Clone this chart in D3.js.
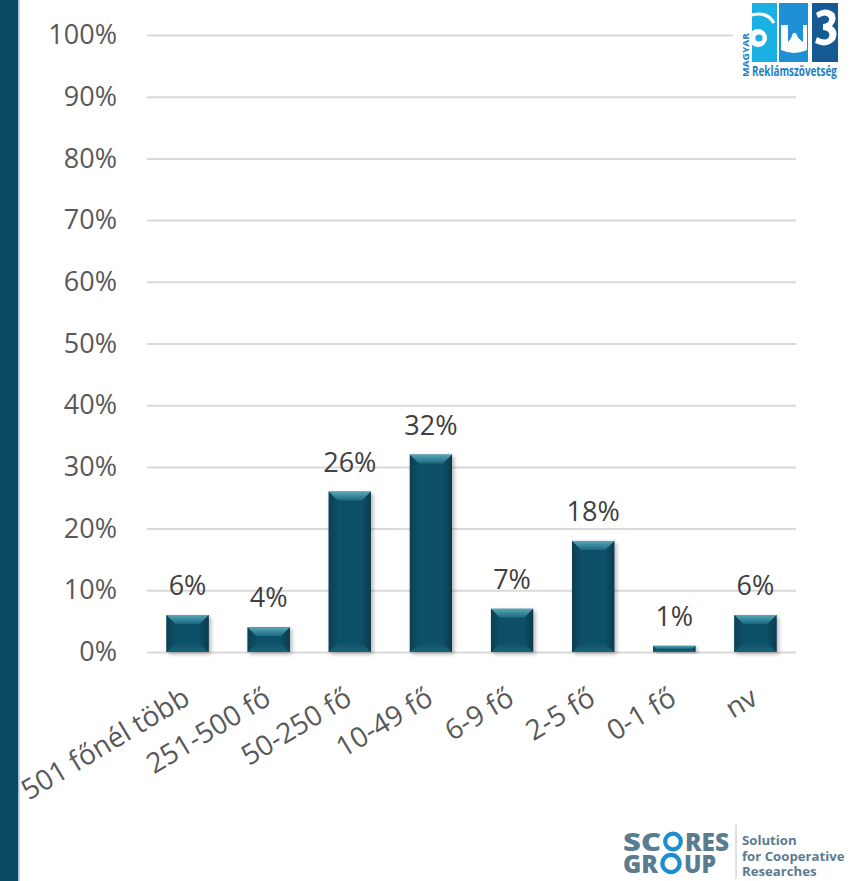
<!DOCTYPE html>
<html>
<head>
<meta charset="utf-8">
<script src="https://cdn.jsdelivr.net/npm/d3@7"></script>
<style>
  html, body { margin: 0; padding: 0; background: #ffffff; }
  svg { display: block; }
  text { font-family: "Open Sans", "Noto Sans", sans-serif; }
</style>
</head>
<body>
<svg id="chart" width="856" height="881"></svg>
<script>
// Company size distribution (share of respondents, %)
const categories = ["501 főnél több", "251-500 fő", "50-250 fő", "10-49 fő", "6-9 fő", "2-5 fő", "0-1 fő", "nv"];
const values = [6, 4, 26, 32, 7, 18, 1, 6];
const yTicks = [0, 10, 20, 30, 40, 50, 60, 70, 80, 90, 100];

const svg = d3.select("#chart");
const plot = { left: 147, right: 796, top: 35, bottom: 652 };

const x = d3.scaleBand()
  .domain(categories)
  .range([plot.left, plot.right])
  .paddingInner(0.48)
  .paddingOuter(0.24);

const y = d3.scaleLinear()
  .domain([0, 100])
  .range([plot.bottom, plot.top]);

// dark side strip
svg.append("rect").attr("x", 0).attr("y", 0).attr("width", 18).attr("height", 881).attr("fill", "#0c4a63");
svg.append("rect").attr("x", 18).attr("y", 0).attr("width", 1.6).attr("height", 881).attr("fill", "#9fbde0");

// gradients and shadow for the bevelled bars
const defs = svg.append("defs");
const gTop = defs.append("linearGradient").attr("id", "bevTop").attr("x1", 0).attr("y1", 0).attr("x2", 0).attr("y2", 1);
gTop.append("stop").attr("offset", "0%").attr("stop-color", "#5aa6ba");
gTop.append("stop").attr("offset", "100%").attr("stop-color", "#1a687e");
const gLeft = defs.append("linearGradient").attr("id", "bevLeft").attr("x1", 0).attr("y1", 0).attr("x2", 1).attr("y2", 0);
gLeft.append("stop").attr("offset", "0%").attr("stop-color", "#0a3f52");
gLeft.append("stop").attr("offset", "100%").attr("stop-color", "#0d4f66");
const gRight = defs.append("linearGradient").attr("id", "bevRight").attr("x1", 1).attr("y1", 0).attr("x2", 0).attr("y2", 0);
gRight.append("stop").attr("offset", "0%").attr("stop-color", "#093a4c");
gRight.append("stop").attr("offset", "100%").attr("stop-color", "#0d4f66");
const gBot = defs.append("linearGradient").attr("id", "bevBot").attr("x1", 0).attr("y1", 1).attr("x2", 0).attr("y2", 0);
gBot.append("stop").attr("offset", "0%").attr("stop-color", "#1a627a");
gBot.append("stop").attr("offset", "100%").attr("stop-color", "#0e5169");
const shadow = defs.append("filter").attr("id", "barShadow").attr("x", "-30%").attr("y", "-30%").attr("width", "160%").attr("height", "160%");
shadow.append("feGaussianBlur").attr("in", "SourceAlpha").attr("stdDeviation", 2);
shadow.append("feOffset").attr("dx", 1.5).attr("dy", 2).attr("result", "off");
shadow.append("feComponentTransfer").append("feFuncA").attr("type", "linear").attr("slope", 0.3);
const merge = shadow.append("feMerge");
merge.append("feMergeNode");
merge.append("feMergeNode").attr("in", "SourceGraphic");

// y axis with gridlines
const yAxis = svg.append("g")
  .attr("transform", `translate(${plot.left},0)`)
  .call(d3.axisLeft(y).tickValues(yTicks).tickFormat(d => d + "%")
    .tickSize(-(plot.right - plot.left)).tickPadding(30));
yAxis.select(".domain").remove();
yAxis.selectAll(".tick line").attr("stroke", "#d9d9d9").attr("stroke-width", 2);
yAxis.selectAll(".tick text")
  .attr("fill", "#595959")
  .attr("font-size", 27)
  .attr("font-family", "'Open Sans', sans-serif");

// bars
const bars = svg.append("g");
categories.forEach((c, i) => {
  const v = values[i];
  const x0 = x(c), x1 = x(c) + x.bandwidth();
  const y0 = y(v), y1 = y(0);
  const b = Math.min(9, (y1 - y0) / 2, (x1 - x0) / 2);
  const g = bars.append("g").attr("filter", "url(#barShadow)");
  g.append("rect").attr("x", x0).attr("y", y0).attr("width", x1 - x0).attr("height", y1 - y0).attr("fill", "#0d4f66");
  const poly = pts => pts.map(p => p.join(",")).join(" ");
  g.append("polygon").attr("points", poly([[x0, y1], [x1, y1], [x1 - b, y1 - b], [x0 + b, y1 - b]])).attr("fill", "url(#bevBot)");
  g.append("polygon").attr("points", poly([[x0, y0], [x0 + b, y0 + b], [x0 + b, y1 - b], [x0, y1]])).attr("fill", "url(#bevLeft)");
  g.append("polygon").attr("points", poly([[x1, y0], [x1 - b, y0 + b], [x1 - b, y1 - b], [x1, y1]])).attr("fill", "url(#bevRight)");
  g.append("polygon").attr("points", poly([[x0, y0], [x1, y0], [x1 - b, y0 + b], [x0 + b, y0 + b]])).attr("fill", "url(#bevTop)");
});

// value labels
svg.append("g").selectAll("text")
  .data(categories)
  .join("text")
  .attr("x", c => x(c) + x.bandwidth() / 2)
  .attr("y", (c, i) => y(values[i]) - 20)
  .attr("text-anchor", "middle")
  .attr("font-size", 27)
  .attr("fill", "#404040")
  .text((c, i) => values[i] + "%");

// category labels, rotated
svg.append("g").selectAll("text")
  .data(categories)
  .join("text")
  .attr("transform", c => `translate(${x(c) + x.bandwidth() / 2 + 4},703) rotate(-31)`)
  .attr("text-anchor", "end")
  .attr("font-size", 28)
  .attr("fill", "#595959")
  .text(c => c);

// association logo, top right
const logo = svg.append("g");
logo.append("rect").attr("x", 733).attr("y", 0).attr("width", 115).attr("height", 86).attr("fill", "#ffffff");
defs.append("clipPath").attr("id", "cyanClip").append("rect").attr("x", 752).attr("y", 3).attr("width", 25).attr("height", 59);
defs.append("clipPath").attr("id", "darkClip").append("rect").attr("x", 812).attr("y", 3).attr("width", 26).attr("height", 59);
logo.append("rect").attr("x", 752).attr("y", 3).attr("width", 25).attr("height", 59).attr("fill", "#1bb0e4");
const cy = logo.append("g").attr("clip-path", "url(#cyanClip)");
cy.append("path").attr("d", "M752,15 Q767,11 774,23").attr("fill", "none").attr("stroke", "#ffffff").attr("stroke-width", 3.2);
cy.append("circle").attr("cx", 758).attr("cy", 38).attr("r", 9).attr("fill", "#ffffff");
cy.append("circle").attr("cx", 759).attr("cy", 38).attr("r", 3.6).attr("fill", "#1bb0e4");
logo.append("rect").attr("x", 779).attr("y", 3).attr("width", 29).attr("height", 59).attr("fill", "#1f8fd6");
logo.append("path")
  .attr("d", "M781,25 L788,25 L788,42 Q792,38 793,33 L796,33 Q797,38 803,42 L803,25 L807,25 L807,50 Q794,56 781,50 Z")
  .attr("fill", "#ffffff");
logo.append("rect").attr("x", 812).attr("y", 3).attr("width", 26).attr("height", 59).attr("fill", "#165a94");
// white epsilon-like glyph in the dark block, drawn as a path
logo.append("g").attr("clip-path", "url(#darkClip)").append("path")
  .attr("d", "M816,13 Q826,6 834,13 Q838,19 832,26 Q839,31 835,40 Q827,49 815,43 L817,37 Q826,42 829,37 Q831,31 823,30 L823,24 Q830,23 829,18 Q826,13 818,18 Z")
  .attr("fill", "#ffffff");
logo.append("text")
  .attr("transform", "translate(749,77) rotate(-90)")
  .attr("font-size", 9.5).attr("font-weight", 700).attr("fill", "#1a7fc6")
  .attr("textLength", 44).attr("lengthAdjust", "spacingAndGlyphs")
  .text("MAGYAR");
// condensed wordmark: horizontally squeezed via transform
const wordmark = logo.append("text")
  .attr("font-size", 13.5).attr("font-weight", 700).attr("fill", "#1a7fc6")
  .text("Reklámszövetség");
const wmW = wordmark.node().getComputedTextLength();
wordmark.attr("transform", `translate(752,76) scale(${85 / wmW},1)`);

// research partner logo, bottom right
const grey = "#5a7c90", ringBlue = "#1d8fd0";
const scores = svg.append("text").attr("font-size", 25).attr("font-weight", 800).attr("fill", grey);
const parts = [
  { t: "SC", x: 623, y: 851, len: 38 },
  { t: "RES", x: 685, y: 851, len: 44 },
  { t: "GR", x: 623, y: 873, len: 35 },
  { t: "UP", x: 684, y: 873, len: 32 }
];
scores.selectAll("tspan").data(parts).join("tspan")
  .attr("x", d => d.x).attr("y", d => d.y)
  .attr("textLength", d => d.len).attr("lengthAdjust", "spacingAndGlyphs")
  .text(d => d.t);
svg.append("circle").attr("cx", 673).attr("cy", 841.5).attr("r", 7.8)
  .attr("fill", "none").attr("stroke", ringBlue).attr("stroke-width", 4.2);
svg.append("circle").attr("cx", 671).attr("cy", 863.5).attr("r", 8.6)
  .attr("fill", "none").attr("stroke", ringBlue).attr("stroke-width", 4.2);
svg.append("line").attr("x1", 736).attr("x2", 736).attr("y1", 824).attr("y2", 879)
  .attr("stroke", "#b8c6cf").attr("stroke-width", 1);
const tagline = ["Solution", "for Cooperative", "Researches"];
svg.append("g").selectAll("text").data(tagline).join("text")
  .attr("x", 742).attr("y", (d, i) => 845 + i * 15.5)
  .attr("font-family", "'Liberation Sans', sans-serif")
  .attr("font-size", 13.2).attr("font-weight", 700).attr("fill", grey)
  .text(d => d);
</script>
</body>
</html>
